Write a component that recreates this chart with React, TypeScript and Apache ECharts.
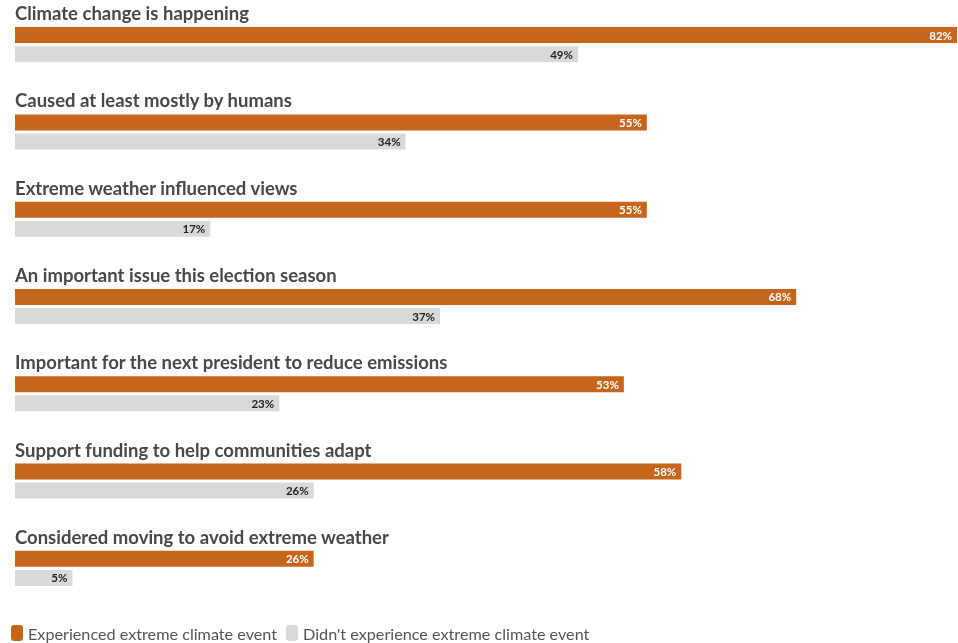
import React, { useEffect, useRef } from "react";
import * as echarts from "echarts";

// Survey statements, top to bottom
const statements = [
  "Climate change is happening",
  "Caused at least mostly by humans",
  "Extreme weather influenced views",
  "An important issue this election season",
  "Important for the next president to reduce emissions",
  "Support funding to help communities adapt",
  "Considered moving to avoid extreme weather",
];

// Share of respondents agreeing (%)
const experienced = [82, 55, 55, 68, 53, 58, 26];
const notExperienced = [49, 34, 17, 37, 23, 26, 5];

const seriesNames = [
  "Experienced extreme climate event",
  "Didn't experience extreme climate event",
];

const ORANGE = "#c7661b";
const GRAY = "#d9d9d9";
const FONT = "Lato, 'Noto Sans', sans-serif";

export default function App() {
  const ref = useRef<HTMLDivElement>(null);

  useEffect(() => {
    if (!ref.current) return;
    const chart = echarts.init(ref.current, undefined, { renderer: "svg" });
    chart.setOption({
      animation: false,
      textStyle: { fontFamily: FONT },
      grid: { left: 15, right: 1, top: 1, bottom: 31, containLabel: false },
      xAxis: {
        type: "value",
        min: 0,
        max: 82,
        show: false,
      },
      yAxis: {
        type: "category",
        inverse: true,
        data: statements,
        axisLine: { show: false },
        axisTick: { show: false },
        splitLine: { show: false },
        axisLabel: {
          inside: true,
          margin: 0,
          align: "left",
          verticalAlign: "middle",
          // title sits above its pair of bars: a blank second line pushes it up
          formatter: (v: string) => `{t|${v}}\n{s|}`,
          rich: {
            t: {
              color: "#484848",
              fontSize: 18.5,
              fontWeight: "bold",
              fontFamily: FONT,
              height: 20,
              lineHeight: 20,
            },
            s: { height: 63, lineHeight: 63 },
          },
        },
      },
      legend: {
        left: 11,
        top: 624,
        padding: 0,
        itemWidth: 12,
        itemHeight: 16,
        itemGap: 9,
        icon: "roundRect",
        textStyle: {
          color: "#555",
          fontSize: 16.2,
          lineHeight: 18,
          fontFamily: FONT,
        },
        data: seriesNames,
      },
      series: [
        {
          name: seriesNames[0],
          type: "bar",
          data: experienced,
          barWidth: 16,
          barGap: "19%",
          itemStyle: { color: ORANGE },
          label: {
            show: true,
            position: "insideRight",
            distance: 5,
            formatter: "{c}%",
            color: "#fff",
            fontSize: 11.5,
            fontWeight: "bold",
            fontFamily: FONT,
          },
        },
        {
          name: seriesNames[1],
          type: "bar",
          data: notExperienced,
          barWidth: 16,
          itemStyle: { color: GRAY },
          label: {
            show: true,
            position: "insideRight",
            distance: 5,
            formatter: "{c}%",
            color: "#222",
            fontSize: 11.5,
            fontWeight: "bold",
            fontFamily: FONT,
          },
        },
      ],
    });
    return () => chart.dispose();
  }, []);

  return (
    <div
      ref={ref}
      style={{ position: "fixed", left: 0, top: 0, width: 958, height: 643 }}
    />
  );
}
